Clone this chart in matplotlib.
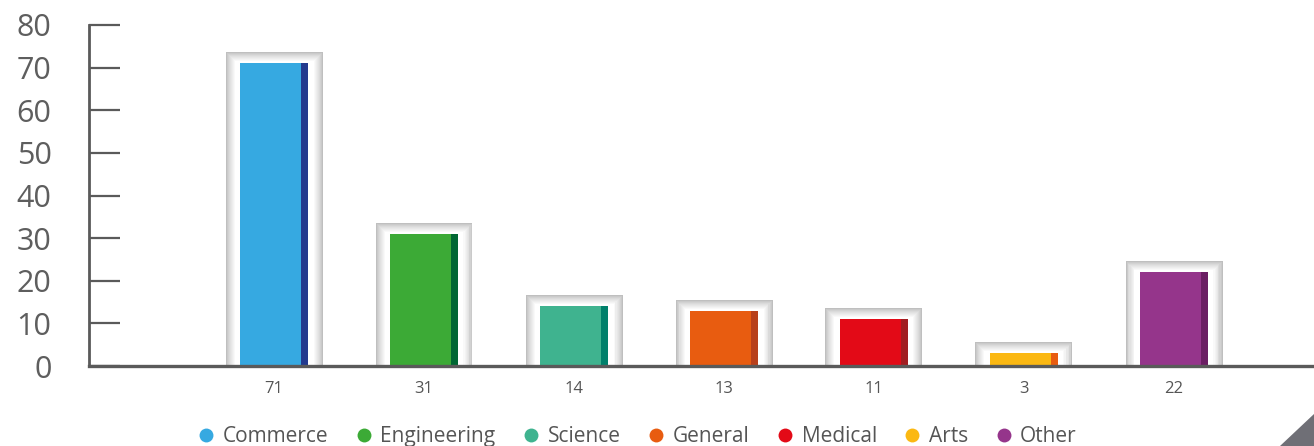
import numpy as np
import matplotlib
matplotlib.use("Agg")
import matplotlib.pyplot as plt
from matplotlib.patches import Rectangle, Polygon
from matplotlib.lines import Line2D

plt.rcParams['font.family'] = ['Open Sans', 'DejaVu Sans']

# data
categories = ["Commerce", "Engineering", "Science", "General", "Medical", "Arts", "Other"]
values = [71, 31, 14, 13, 11, 3, 22]
colors = ["#36a9e1", "#3caa36", "#3fb38f", "#e85c10", "#e30a17", "#fbb812", "#95358b"]
edge_colors = ["#233a8e", "#006633", "#00806b", "#b8401b", "#a11d21", "#e85c10", "#6b1e63"]

px_w, px_h = 1314, 446
fig = plt.figure(figsize=(px_w / 100, px_h / 100), dpi=100)
ax = fig.add_axes([89 / px_w, 80 / px_h, (px_w - 89) / px_w, 341 / px_h])

x_unit = 150.0          # pixels per category
y_unit = 341 / 80.0     # pixels per value unit
ax.set_xlim(-185 / x_unit, 6 + 140 / x_unit)
ax.set_ylim(0, 80)

bar_w = 68 / x_unit
stripe_w = 7 / x_unit
frame_w = 97 / x_unit

x = np.arange(len(categories))
for xi, v, c, ec in zip(x, values, colors, edge_colors):
    # soft grey frame around each bar
    n = 10
    top = v + 11 / y_unit
    for i in range(n):
        g = 0.75 + 0.25 * (i / (n - 1)) ** 0.8
        w = frame_w - 2 * i / x_unit
        h = top - i / y_unit
        ax.add_patch(Rectangle((xi - w / 2, 0), w, h, facecolor=(g, g, g),
                               edgecolor="none", zorder=1))
    ax.bar(xi - stripe_w / 2, v, width=bar_w - stripe_w, color=c, zorder=2)
    ax.bar(xi + bar_w / 2 - stripe_w / 2, v, width=stripe_w, color=ec, zorder=2)

ax.set_xticks(x)
ax.set_xticklabels([str(v) for v in values])
ax.set_yticks(range(0, 81, 10))

for s in ["top", "right"]:
    ax.spines[s].set_visible(False)
ax.spines["left"].set_color("#5a5a5a")
ax.spines["left"].set_linewidth(2)
ax.spines["bottom"].set_color("#5a5a5a")
ax.spines["bottom"].set_linewidth(2.4)
ax.spines["bottom"].set_zorder(3)

ax.tick_params(axis="y", direction="in", length=22, width=1.6, color="#5a5a5a",
               labelsize=22, labelcolor="#5e5e5e", pad=27)
ax.tick_params(axis="x", length=0, labelsize=12, labelcolor="#555555", pad=11)

handles = [Line2D([], [], marker="o", linestyle="none", markersize=10,
                  markerfacecolor=c, markeredgecolor="none") for c in colors]
fig.legend(handles, categories, loc="lower center", ncol=len(categories),
           bbox_to_anchor=(0.485, -0.045), frameon=False, fontsize=15,
           labelcolor="#555555", handlelength=0.8, handletextpad=0.4,
           columnspacing=1.3)

# decorative corner triangle
fig.patches.append(Polygon([(1280 / px_w, 0), (1, 0), (1, 32 / px_h)], closed=True,
                           transform=fig.transFigure, facecolor="#6f6f76",
                           edgecolor="none"))

fig.savefig("out.png", dpi=100)
